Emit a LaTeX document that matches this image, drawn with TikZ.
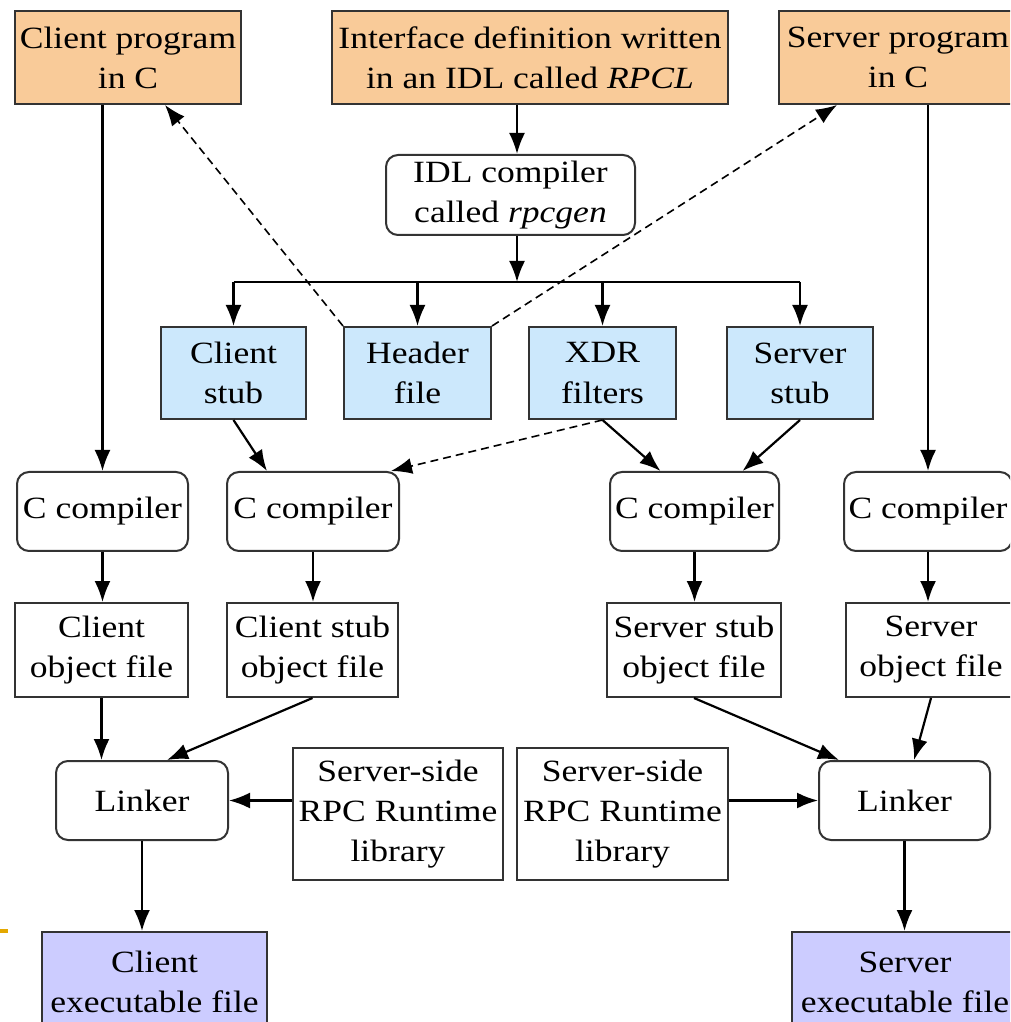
\documentclass[tikz,border=0pt]{standalone}
\usepackage{fontspec}
\setmainfont{Liberation Serif}[FakeStretch=1.15]
\usetikzlibrary{arrows.meta}
\definecolor{srcorange}{RGB}{249,203,153}
\definecolor{stubblue}{RGB}{204,232,252}
\definecolor{exepurple}{RGB}{204,204,255}
\definecolor{bulletgold}{RGB}{228,168,0}

\begin{document}
\begin{tikzpicture}[x=0.1mm,y=-0.1mm,
  box/.style={draw=black!80,line width=0.2mm,inner sep=0.3mm,align=center,
    font=\fontsize{8.8}{11.4}\selectfont},
  srcbox/.style={box,fill=srcorange},
  stubbox/.style={box,fill=stubblue},
  exebox/.style={box,fill=exepurple},
  toolbox/.style={box,rounded corners=1.2mm},
  arr/.style={-{Latex[length=2.1mm,width=1.6mm]},line width=0.22mm},
  dasharr/.style={arr,line width=0.16mm,dash pattern=on 0.8mm off 0.5mm}]
  \useasboundingbox (0,0) rectangle (1010,1022);
  \clip (0,0) rectangle (1010,1022);
  \fill[white] (0,0) rectangle (1010,1022);
  \fill[bulletgold] (0,929) rectangle (8,933);

  % sources
  \node[srcbox,minimum width=22.6mm,minimum height=9.3mm] (cprog) at (128,57.5) {Client program\\in C};
  \node[srcbox,minimum width=39.6mm,minimum height=9.3mm] (idef) at (530,57.5) {Interface definition written\\in an IDL called \textit{RPCL}};
  \node[srcbox,minimum width=23.8mm,minimum height=9.3mm] (sprog) at (898,57.5) {Server program\\in C};
  \node[toolbox,minimum width=24.9mm,minimum height=8mm] (idl) at (510.5,195) {IDL compiler\\called \textit{rpcgen}};

  % generated files
  \node[stubbox,minimum width=14.5mm,minimum height=9.2mm] (cstub) at (233.5,373) {Client\\stub};
  \node[stubbox,minimum width=14.7mm,minimum height=9.2mm] (hdr) at (417.5,373) {Header\\file};
  \node[stubbox,minimum width=14.7mm,minimum height=9.2mm] (xdr) at (602.5,373) {XDR\\filters};
  \node[stubbox,minimum width=14.6mm,minimum height=9.2mm] (sstub) at (800,373) {Server\\stub};

  \coordinate (fork) at (517,282);
  \draw[arr] (idef.south -| fork) -- (idl.north -| fork);
  \draw[arr] (idl.south -| fork) -- (fork);
  \draw[line width=0.22mm] (fork -| cstub.north) -- (fork -| sstub.north);
  \foreach \n in {cstub,hdr,xdr,sstub}
    \draw[arr] (fork -| \n.north) -- (\n.north);
  \draw[dasharr] (hdr.north west) -- ([xshift=3.7mm]cprog.south);
  \draw[dasharr] (hdr.north east) -- ([xshift=5.9mm]sprog.south west);

  % compilers
  \node[toolbox,minimum width=17.1mm,minimum height=7.9mm] (cc1) at (102.5,511.5) {C compiler};
  \node[toolbox,minimum width=17.2mm,minimum height=7.9mm] (cc2) at (313,511.5) {C compiler};
  \node[toolbox,minimum width=16.9mm,minimum height=7.9mm] (cc3) at (694.5,511.5) {C compiler};
  \node[toolbox,minimum width=16.8mm,minimum height=7.9mm] (cc4) at (928,511.5) {C compiler};

  \draw[arr] (cprog.south -| cc1.north) -- (cc1.north);
  \draw[arr] (cstub.south) -- ([xshift=-4.6mm]cc2.north);
  \draw[dasharr] (xdr.south) -- ([xshift=-0.9mm]cc2.north east);
  \draw[arr] (xdr.south) -- ([xshift=-3.4mm]cc3.north);
  \draw[arr] (sstub.south) -- ([xshift=4.8mm]cc3.north);
  \draw[arr] (sprog.south -| cc4.north) -- (cc4.north);

  % object files
  \node[box,minimum width=17.3mm,minimum height=9.4mm] (cobj) at (101.5,650) {Client\\object file};
  \node[box,minimum width=17.1mm,minimum height=9.4mm] (csobj) at (312.5,650) {Client stub\\object file};
  \node[box,minimum width=17.4mm,minimum height=9.4mm] (ssobj) at (694,650) {Server stub\\object file};
  \node[box,minimum width=17mm,minimum height=9.4mm] (sobj) at (931,650) {Server\\object file};
  \foreach \a/\b in {cc1/cobj,cc2/csobj,cc3/ssobj,cc4/sobj}
    \draw[arr] (\a.south) -- (\a.south |- \b.north);

  % linking
  \node[toolbox,minimum width=17.2mm,minimum height=7.9mm] (lnk1) at (142,800.5) {Linker};
  \node[toolbox,minimum width=17.1mm,minimum height=7.9mm] (lnk2) at (904.5,800.5) {Linker};
  \node[box,minimum width=21mm,minimum height=13.2mm] (rt1) at (398,814) {Server-side\\RPC Runtime\\library};
  \node[box,minimum width=21.1mm,minimum height=13.2mm] (rt2) at (622.5,814) {Server-side\\RPC Runtime\\library};

  \draw[arr] (cobj.south) -- (cobj.south |- lnk1.north);
  \draw[arr] (csobj.south) -- ([xshift=2.5mm]lnk1.north);
  \draw[arr] (ssobj.south) -- ([xshift=2.1mm]lnk2.north west);
  \draw[arr] (sobj.south) -- ([xshift=0.95mm]lnk2.north);
  \draw[arr] (rt1.west |- lnk1.east) -- (lnk1.east);
  \draw[arr] (rt2.east |- lnk2.west) -- (lnk2.west);

  % executables
  \node[exebox,minimum width=22.5mm,minimum height=10mm] (cexe) at (154.5,982) {Client\\executable file};
  \node[exebox,minimum width=22.6mm,minimum height=10mm] (sexe) at (905,982) {Server\\executable file};
  \draw[arr] (lnk1.south) -- (lnk1.south |- cexe.north);
  \draw[arr] (lnk2.south) -- (lnk2.south |- sexe.north);
\end{tikzpicture}
\end{document}
